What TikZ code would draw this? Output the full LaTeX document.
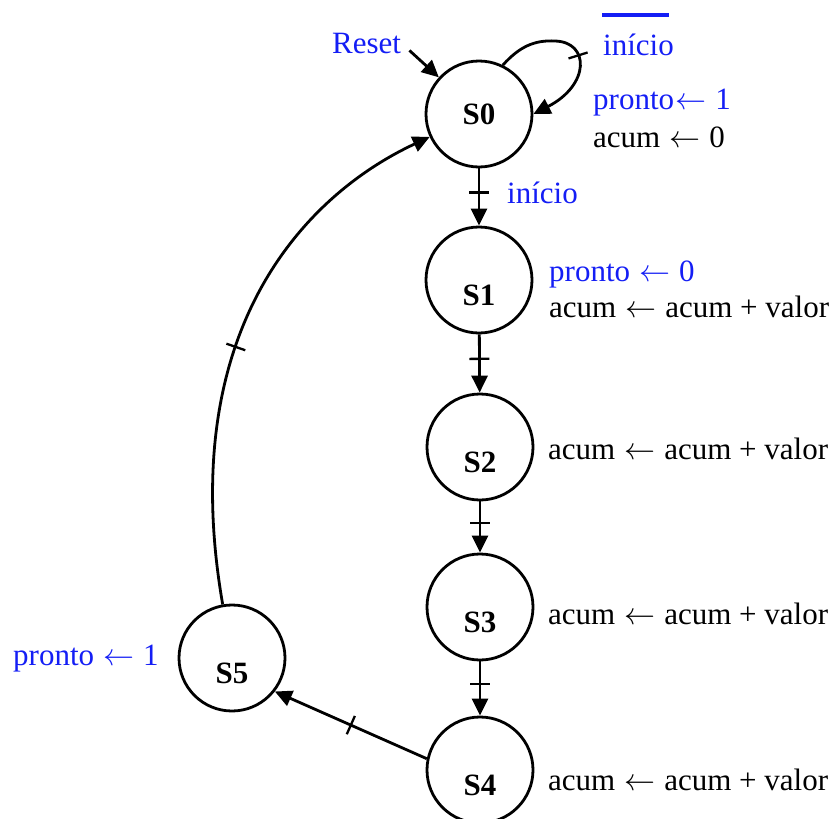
\RequirePackage{fix-cm}
\documentclass[tikz,border=0pt]{standalone}
\usepackage{fontspec}
\setmainfont{Liberation Serif}
\usetikzlibrary{arrows.meta,decorations.markings}
\definecolor{sigblue}{RGB}{20,30,245}
\newcommand\diagfont{\fontsize{31pt}{37pt}\selectfont}
\newcommand\assign{\hspace{1.5pt}$\leftarrow$\hspace{1pt}}
\tikzset{
  state/.style={circle,draw,line width=2.8pt,minimum size=106pt,inner sep=0pt,font=\diagfont\bfseries},
  sunk/.style={text height=50pt,text depth=0pt},
  trans/.style={line width=2.8pt,-{Triangle[length=17pt,width=16pt]}},
  act/.style={anchor=base west,inner sep=0pt},
  sig/.style={act,text=sigblue},
  cutmark/.style={postaction={decorate,decoration={markings,
      mark=at position #1 with {\draw[-,line width=2.3pt] (0,-10pt) -- (0,10pt);}}}}
}
\begin{document}
\begin{tikzpicture}[x=1pt,y=-1pt,font=\diagfont]
\useasboundingbox (0,0) rectangle (838,819);
% states
\node[state] (s0) at (479,114) {S0};
\node[state,sunk] (s1) at (479,280) {S1};
\node[state,sunk] (s2) at (480,447) {S2};
\node[state,sunk] (s3) at (480,607) {S3};
\node[state,sunk] (s4) at (480,770) {S4};
\node[state,sunk] (s5) at (232,658) {S5};
% signals and actions
\node[sig] (reset) at (332,53) {Reset};
\node[sig] (notstart) at (603,55) {início};
\node[sig] (ready0) at (593,109) {pronto\assign{} 1};
\node[act] (clear0) at (593,147) {acum \assign{} 0};
\node[sig] (start) at (507,203) {início};
\node[sig] (ready1) at (549,281) {pronto \assign{} 0};
\node[act] (add1) at (549,317) {acum \assign{} acum + valor};
\node[act] (add2) at (548,459) {acum \assign{} acum + valor};
\node[act] (add3) at (548,624) {acum \assign{} acum + valor};
\node[act] (add4) at (548,790) {acum \assign{} acum + valor};
\node[sig] (ready5) at (13,665) {pronto \assign{} 1};
% negation bar
\draw[sigblue,line width=4pt] (602,15) -- (669,15);
% transitions
\draw[trans,shorten <=11pt] (reset.east) -- (s0);
\draw[trans,cutmark=0.53] (s0.64) .. controls (520,46) and (535,40) .. (555,41)
  .. controls (590,42) and (590,85) .. (s0.east);
\draw[trans,cutmark=0.42] (s0) -- (s1);
\draw[trans,cutmark=0.42] (s1) -- (s2);
\draw[trans,cutmark=0.42] (s2) -- (s3);
\draw[trans,cutmark=0.42] (s3) -- (s4);
\draw[trans,cutmark=0.5] (s4.168) -- (s5.-38);
\draw[trans,cutmark=0.47] (s5) .. controls (175,330) and (305,195) .. (s0);
\end{tikzpicture}
\end{document}
